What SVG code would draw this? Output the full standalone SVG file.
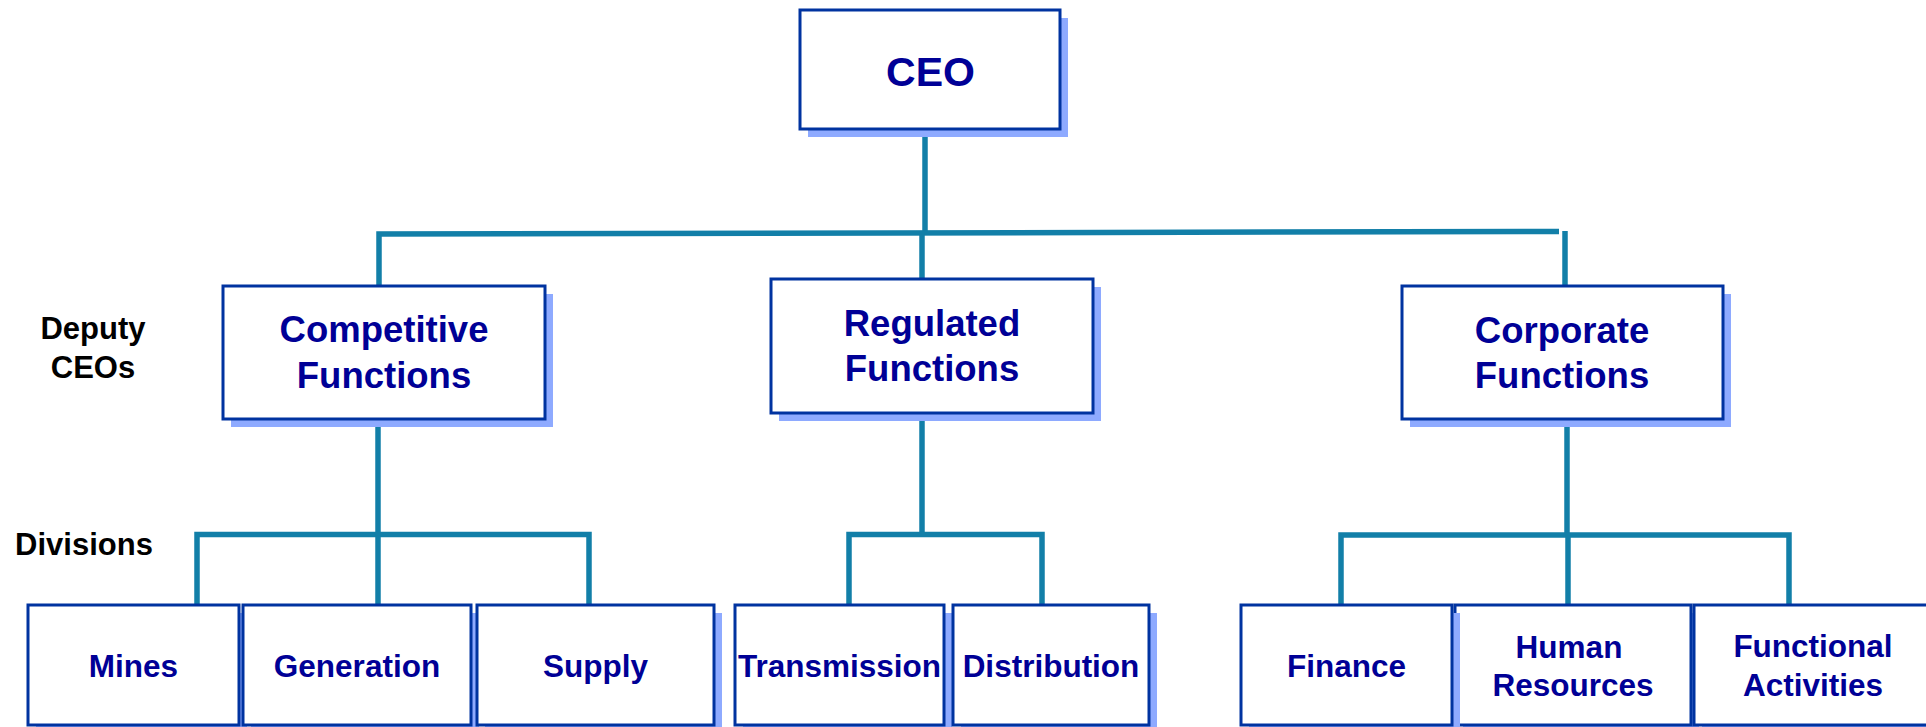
<svg xmlns="http://www.w3.org/2000/svg" width="1926" height="727" viewBox="0 0 1926 727">
  <style>
    .box { fill: #ffffff; stroke: #0033a0; stroke-width: 3; }
    .shadow { fill: #8eaaff; }
    .t { font-family: "Liberation Sans", Arial, sans-serif; font-weight: bold; fill: #000096; text-anchor: middle; }
    .lbl { font-family: "Liberation Sans", Arial, sans-serif; font-weight: bold; fill: #000000; font-size: 31px; text-anchor: middle; }
    .con { fill: none; stroke: #127fa8; stroke-width: 5.5; stroke-linejoin: miter; }
  </style>
  <rect width="1926" height="727" fill="#ffffff"/>

  <!-- connectors -->
  <g id="connectors">
    <!-- CEO to deputy level -->
    <path class="con" d="M925,137 V233"/>
    <path class="con" d="M379,286 V234 L1559,231.5"/>
    <path class="con" d="M922,232 V279"/>
    <path class="con" d="M1565,231 V286"/>
    <!-- competitive functions to divisions -->
    <path class="con" d="M378,427 V535"/>
    <path class="con" d="M197,605 V534.5 H589 V605"/>
    <path class="con" d="M378,534 V605"/>
    <!-- regulated functions to divisions -->
    <path class="con" d="M922,421 V535"/>
    <path class="con" d="M849,605 V534.5 H1042 V605"/>
    <!-- corporate functions to divisions -->
    <path class="con" d="M1567,427 V535"/>
    <path class="con" d="M1341,610 V535 H1789 V605"/>
    <path class="con" d="M1568,534 V605"/>
  </g>

  <!-- level labels -->
  <g id="labels">
    <text class="lbl" x="93" y="339">Deputy</text>
    <text class="lbl" x="93" y="378">CEOs</text>
    <text class="lbl" x="84" y="555">Divisions</text>
  </g>

  <g id="ceo">
    <rect class="shadow" x="808" y="18" width="260" height="119"/>
    <rect class="box" x="800" y="10" width="260" height="119"/>
    <text class="t" x="930.5" y="86" font-size="41">CEO</text>
  </g>

  <g id="competitive">
    <rect class="shadow" x="231" y="294" width="322" height="133"/>
    <rect class="box" x="223" y="286" width="322" height="133"/>
    <text class="t" x="384" y="342" font-size="36.5">Competitive</text>
    <text class="t" x="384" y="388" font-size="36.5">Functions</text>
  </g>

  <g id="regulated">
    <rect class="shadow" x="779" y="287" width="322" height="134"/>
    <rect class="box" x="771" y="279" width="322" height="134"/>
    <text class="t" x="932" y="336" font-size="36.5">Regulated</text>
    <text class="t" x="932" y="381" font-size="36.5">Functions</text>
  </g>

  <g id="corporate">
    <rect class="shadow" x="1410" y="294" width="321" height="133"/>
    <rect class="box" x="1402" y="286" width="321" height="133"/>
    <text class="t" x="1562" y="343" font-size="36.5">Corporate</text>
    <text class="t" x="1562" y="388" font-size="36.5">Functions</text>
  </g>

  <g id="mines">
    <rect class="shadow" x="36" y="613" width="211" height="120"/>
    <rect class="box" x="28" y="605" width="211" height="120"/>
    <text class="t" x="133.5" y="677" font-size="31.5">Mines</text>
  </g>

  <g id="generation">
    <rect class="shadow" x="251" y="613" width="228" height="120"/>
    <rect class="box" x="243" y="605" width="228" height="120"/>
    <text class="t" x="357" y="677" font-size="31.5">Generation</text>
  </g>

  <g id="supply">
    <rect class="shadow" x="485" y="613" width="237" height="120"/>
    <rect class="box" x="477" y="605" width="237" height="120"/>
    <text class="t" x="595.5" y="677" font-size="31.5">Supply</text>
  </g>

  <g id="transmission">
    <rect class="shadow" x="743" y="613" width="209" height="120"/>
    <rect class="box" x="735" y="605" width="209" height="120"/>
    <text class="t" x="839.5" y="677" font-size="31.5">Transmission</text>
  </g>

  <g id="distribution">
    <rect class="shadow" x="961" y="613" width="196" height="120"/>
    <rect class="box" x="953" y="605" width="196" height="120"/>
    <text class="t" x="1051" y="677" font-size="31.5">Distribution</text>
  </g>

  <g id="human-resources">
    <rect class="shadow" x="1463" y="613" width="236" height="120"/>
    <rect class="box" x="1455" y="605" width="236" height="120"/>
    <text class="t" x="1569" y="658" font-size="31.5">Human</text>
    <text class="t" x="1573" y="696" font-size="31.5">Resources</text>
  </g>

  <g id="finance">
    <rect class="shadow" x="1249" y="613" width="211" height="120"/>
    <rect class="box" x="1241" y="605" width="211" height="120"/>
    <text class="t" x="1346.5" y="677" font-size="31.5">Finance</text>
  </g>

  <g id="functional-activities">
    <rect class="shadow" x="1702" y="613" width="238" height="120"/>
    <rect class="box" x="1694" y="605" width="238" height="120"/>
    <text class="t" x="1813" y="657" font-size="31.5">Functional</text>
    <text class="t" x="1813" y="696" font-size="31.5">Activities</text>
  </g>
</svg>
